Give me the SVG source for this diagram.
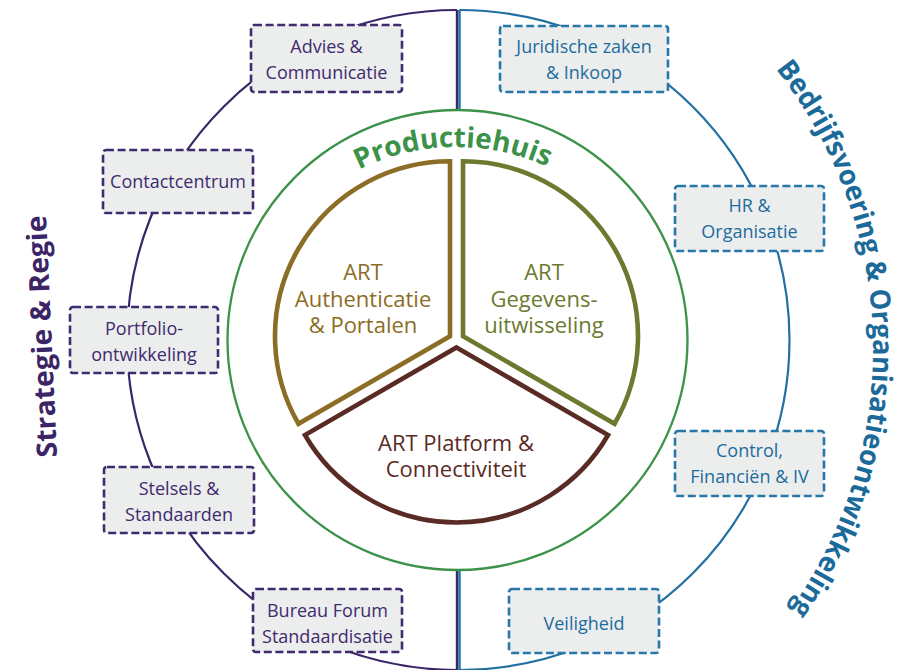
<svg xmlns="http://www.w3.org/2000/svg" width="912" height="670" viewBox="0 0 912 670">
<style>
.box{fill:#eceded;stroke-width:2.6;stroke-dasharray:8 3.6}
.bp{stroke:#3f2b6d}
.bb{stroke:#2777a8}
.t{font-family:"Open Sans","Noto Sans","Liberation Sans",sans-serif;font-size:18px;text-anchor:middle}
.tp{fill:#3f2b6d}
.tb{fill:#1d6c9e}
.st{font-family:"Open Sans","Noto Sans","Liberation Sans",sans-serif;font-size:22px;text-anchor:middle}
.ttl{font-family:"Open Sans","Noto Sans","Liberation Sans",sans-serif;font-size:28px;font-weight:700}
</style>
<defs>
<path id="arcProd" d="M265.47,257 A220,220 0 0 1 646.53,257"/>
<path id="arcRight" d="M775.7,68.9 A452,452 0 0 1 740.6,668.6"/>
</defs>
<rect width="912" height="670" fill="#ffffff"/>
<g id="connectors" fill="none">
<path d="M457,10 A330,330 0 0 0 457,670" stroke="#3b2768" stroke-width="2.2"/>
<path d="M459.5,10 A330,330 0 0 1 459.5,670" stroke="#22709f" stroke-width="2.2"/>
<line x1="457" y1="10" x2="457" y2="110" stroke="#3b2768" stroke-width="2.4"/>
<line x1="459.5" y1="10" x2="459.5" y2="110" stroke="#22709f" stroke-width="2.4"/>
<line x1="457" y1="570" x2="457" y2="670" stroke="#3b2768" stroke-width="2.4"/>
<line x1="459.5" y1="570" x2="459.5" y2="670" stroke="#22709f" stroke-width="2.4"/>
</g>
<g id="productiehuis">
<circle cx="457.5" cy="340" r="230" fill="#ffffff" stroke="#3c9248" stroke-width="2.3"/>
<text font-family="'Open Sans','Noto Sans','Liberation Sans',sans-serif" font-size="28" font-weight="700" fill="#3c9248" text-anchor="middle"><textPath href="#arcProd" startOffset="49.3%">Productiehuis</textPath></text>
</g>
<g id="art-authenticatie">
<path d="M450,336.25 L298.45,423.75 A175,175 0 0 1 450,161.25 Z" fill="#ffffff" stroke="#8c6d25" stroke-width="4.6" stroke-linejoin="miter"/>
<text class="st" fill="#8c6d25"><tspan x="363" y="280">ART</tspan><tspan x="363" y="307">Authenticatie</tspan><tspan x="363" y="333">&amp; Portalen</tspan></text>
</g>
<g id="art-gegevens">
<path d="M463,336.25 L463,161.25 A175,175 0 0 1 614.55,423.75 Z" fill="#ffffff" stroke="#6b7a2e" stroke-width="4.6" stroke-linejoin="miter"/>
<text class="st" fill="#6b7a2e"><tspan x="544" y="280">ART</tspan><tspan x="544" y="307">Gegevens-</tspan><tspan x="544" y="333">uitwisseling</tspan></text>
</g>
<g id="art-platform">
<path d="M456.5,347.5 L608.05,435 A175,175 0 0 1 304.95,435 Z" fill="#ffffff" stroke="#5a2a24" stroke-width="4.6" stroke-linejoin="miter"/>
<text class="st" fill="#5a2a24"><tspan x="456" y="451">ART Platform &amp;</tspan><tspan x="456" y="477">Connectiviteit</tspan></text>
</g>
<g id="advies">
<rect class="box bp" x="251" y="25" width="151" height="67" rx="3"/>
<text class="t tp"><tspan x="326.5" y="53">Advies &amp;</tspan><tspan x="326.5" y="79">Communicatie</tspan></text>
</g>
<g id="contactcentrum">
<rect class="box bp" x="103" y="150" width="150" height="63" rx="3"/>
<text class="t tp" x="178" y="188">Contactcentrum</text>
</g>
<g id="portfolio">
<rect class="box bp" x="70" y="307" width="148" height="66" rx="3"/>
<text class="t tp"><tspan x="144" y="335">Portfolio-</tspan><tspan x="144" y="361">ontwikkeling</tspan></text>
</g>
<g id="stelsels">
<rect class="box bp" x="104" y="467" width="150" height="66" rx="3"/>
<text class="t tp"><tspan x="179" y="495">Stelsels &amp;</tspan><tspan x="179" y="521">Standaarden</tspan></text>
</g>
<g id="bureau-forum">
<rect class="box bp" x="253" y="589" width="149" height="63" rx="3"/>
<text class="t tp"><tspan x="327.5" y="617">Bureau Forum</tspan><tspan x="327.5" y="643">Standaardisatie</tspan></text>
</g>
<g id="juridische">
<rect class="box bb" x="500" y="26" width="168" height="66" rx="3"/>
<text class="t tb"><tspan x="584" y="53">Juridische zaken</tspan><tspan x="584" y="79">&amp; Inkoop</tspan></text>
</g>
<g id="hr">
<rect class="box bb" x="675" y="186" width="149" height="65" rx="3"/>
<text class="t tb"><tspan x="749.5" y="212">HR &amp;</tspan><tspan x="749.5" y="238">Organisatie</tspan></text>
</g>
<g id="control">
<rect class="box bb" x="675" y="431" width="149" height="65" rx="3"/>
<text class="t tb"><tspan x="749.5" y="457">Control,</tspan><tspan x="749.5" y="483">Financiën &amp; IV</tspan></text>
</g>
<g id="veiligheid">
<rect class="box bb" x="509" y="589" width="150" height="64" rx="3"/>
<text class="t tb" x="584" y="630">Veiligheid</text>
</g>
<g id="strategie-regie">
<text class="ttl" fill="#3b2566" transform="translate(57,457) rotate(-92.6)" textLength="242" lengthAdjust="spacingAndGlyphs">Strategie &amp; Regie</text>
</g>
<g id="bedrijfsvoering">
<text class="ttl" fill="#1b6a9a"><textPath href="#arcRight" textLength="580" lengthAdjust="spacingAndGlyphs">Bedrijfsvoering &amp; Organisatieontwikkeling</textPath></text>
</g>
</svg>
